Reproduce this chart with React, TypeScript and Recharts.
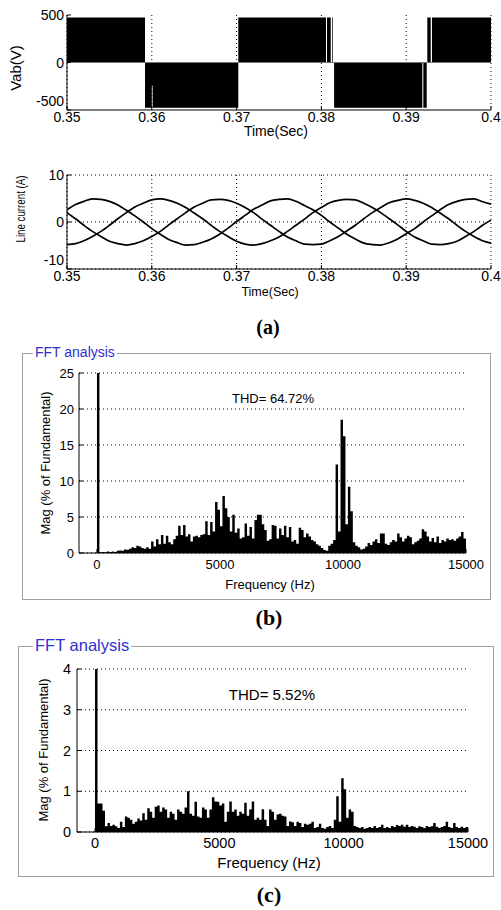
import {
  Area,
  AreaChart,
  CartesianGrid,
  Line,
  LineChart,
  ReferenceLine,
  XAxis,
  YAxis,
} from "recharts";

// (a) top: line voltage Vab, switching instants
const vabTimes = [
  0.35, 0.3592, 0.36, 0.3601, 0.3702, 0.38054, 0.38066, 0.3811, 0.38125, 0.38133,
  0.3815, 0.3919, 0.39202, 0.39242, 0.39249, 0.39289, 0.39304, 0.4,
];
const vabValues = [
  475, -475, -245, -475, 475, 0, 475, 0, 475, 0, -475, 0, -475, 0, 475, 0, 475, 475,
];

// (a) bottom: three line currents sampled every 1 ms from 0.35 s
const currentStart = 0.35;
const currentStep = 0.001;
const phaseA = [
  2.6, 3.7, 4.4, 4.9, 4.8, 4.4, 3.6, 2.5, 1.3, 0.0, -1.4, -2.6, -3.7, -4.4, -4.9, -4.8, -4.3, -3.6, -2.6, -1.3, 0.1, 1.4,
  2.7, 3.6, 4.5, 4.8, 4.9, 4.4, 3.5, 2.6, 1.4, 0.0, -1.3, -2.6, -3.6, -4.5, -4.8, -4.9, -4.4, -3.6, -2.5, -1.4, 0.0, 1.3,
  2.6, 3.7, 4.4, 4.8, 4.9, 4.3, 3.8,
];
const phaseB = [
  -4.8, -4.6, -4.0, -3.1, -2.0, -0.7, 0.7, 2.0, 3.2, 4.0, 4.7, 4.9, 4.6, 4.0, 3.1, 1.9, 0.7, -0.7, -2.0, -3.1, -4.1, -4.7,
  -4.9, -4.6, -4.0, -3.2, -2.0, -0.7, 0.6, 2.0, 3.1, 4.1, 4.6, 4.8, 4.7, 4.0, 3.1, 2.0, 0.7, -0.6, -2.0, -3.2, -4.0, -4.7,
  -4.8, -4.6, -4.1, -3.1, -2.0, -0.7, 0.4,
];
const phaseC = [
  2.0, 0.7, -0.7, -2.0, -3.1, -4.1, -4.6, -4.9, -4.6, -4.0, -3.1, -2.0, -0.6, 0.7, 2.0, 3.2, 4.0, 4.7, 4.8, 4.6, 4.0, 3.1,
  2.0, 0.6, -0.7, -2.0, -3.2, -4.0, -4.7, -4.8, -4.7, -4.0, -3.1, -1.9, -0.7, 0.7, 2.0, 3.1, 4.1, 4.6, 4.9, 4.6, 4.0, 3.1,
  1.9, 0.7, -0.7, -2.0, -3.1, -4.0, -4.5,
];
const timeTicks = [0.35, 0.36, 0.37, 0.38, 0.39, 0.4];

// (b), (c): harmonic spectra in 100 Hz bins, bin 0 = fundamental
const fftStep = 100;
const freqTicks = [0, 5000, 10000, 15000];
const magB = [
  100, 0.1, 0.15, 0.1, 0.2, 0.15, 0.2, 0.15, 0.3, 0.35,
  0.3, 0.5, 0.45, 0.6, 0.8, 0.7, 1.0, 0.9, 0.7, 0.6,
  0.8, 0.6, 1.6, 0.9, 1.9, 1.2, 2.5, 1.3, 2.4, 1.5,
  1.2, 1.9, 2.4, 3.8, 2.5, 3.9, 2.3, 2.6, 1.6, 2.3,
  2.4, 2.2, 2.5, 2.6, 4.4, 2.5, 4.3, 3.0, 7.1, 6.0,
  3.7, 7.9, 6.2, 5.0, 3.0, 5.3, 2.8, 3.4, 2.0, 2.2,
  4.1, 2.4, 3.6, 2.0, 4.6, 5.3, 5.3, 4.0, 3.2, 1.7,
  1.9, 3.9, 3.8, 2.0, 3.4, 2.5, 3.8, 2.2, 3.6, 1.6,
  1.8, 1.3, 3.5, 3.2, 2.2, 2.7, 2.3, 1.8, 1.6, 1.2,
  1.0, 0.7, 0.4, 0.3, 1.0, 1.3, 1.8, 12.3, 3.0, 18.5,
  16.2, 4.0, 9.2, 5.8, 1.5, 1.0, 0.8, 0.5, 0.6, 0.9,
  1.4, 1.1, 1.6, 1.9, 1.4, 2.7, 2.7, 1.3, 1.1, 1.5,
  1.8, 1.6, 2.7, 2.2, 1.6, 2.0, 2.4, 2.2, 1.2, 1.5,
  1.7, 2.0, 3.3, 3.0, 2.3, 1.6, 2.1, 1.5, 2.3, 1.4,
  1.8, 1.6, 2.0, 1.8, 1.9, 1.7, 2.0, 2.3, 2.9, 2.0,
  2.0,
];
const magC = [
  100, 0.7, 0.7, 0.52, 0.14, 0.22, 0.15, 0.18, 0.14, 0.1,
  0.25, 0.12, 0.38, 0.35, 0.3, 0.2, 0.25, 0.33, 0.28, 0.46,
  0.3, 0.58, 0.5, 0.35, 0.62, 0.65, 0.5, 0.6, 0.55, 0.35,
  0.5, 0.45, 0.3, 0.55, 0.5, 0.45, 0.6, 1.0, 0.45, 0.4,
  0.74, 0.38, 0.35, 0.6, 0.55, 0.35, 0.55, 0.85, 0.75, 0.74,
  0.65, 0.7, 0.25, 0.5, 0.75, 0.5, 0.55, 0.4, 0.5, 0.45,
  0.72, 0.4, 0.55, 0.75, 0.3, 0.35, 0.3, 0.56, 0.3, 0.15,
  0.55, 0.5, 0.3, 0.43, 0.45, 0.4, 0.38, 0.15, 0.26, 0.24,
  0.15, 0.25, 0.22, 0.12, 0.2, 0.18, 0.2, 0.25, 0.1, 0.12,
  0.2, 0.1, 0.08, 0.12, 0.15, 0.1, 0.3, 0.88, 0.25, 1.32,
  1.05, 0.35, 0.55, 0.5, 0.15, 0.12, 0.1, 0.12, 0.08, 0.1,
  0.12, 0.1, 0.15, 0.1, 0.12, 0.18, 0.1, 0.12, 0.1, 0.15,
  0.12, 0.17, 0.15, 0.18, 0.13, 0.18, 0.12, 0.15, 0.13, 0.1,
  0.14, 0.12, 0.1, 0.15, 0.12, 0.14, 0.22, 0.13, 0.1, 0.12,
  0.15, 0.25, 0.12, 0.1, 0.22, 0.12, 0.1, 0.13, 0.1, 0.12,
  0.12,
];

const vabData = vabTimes.map((t, i) => ({ t, v: vabValues[i] }));
const currentData = phaseA.map((a, i) => ({
  t: currentStart + i * currentStep,
  a,
  b: phaseB[i],
  c: phaseC[i],
}));
const fftB = magB.map((m, i) => ({ f: i * fftStep, m }));
const fftC = magC.map((m, i) => ({ f: i * fftStep, m }));

const sans = "'Liberation Sans', Arial, Helvetica, sans-serif";
const serif = "'Liberation Serif', 'Times New Roman', serif";
const tickFont = (size: number) => ({ fontSize: size, fill: "#000", fontFamily: sans });
const black = { stroke: "#000" };

// y tick label; the lowest one can be lifted a little so it clears the first x label
function makeYTick(size: number, lowest: number, lift: number) {
  return (props: any) => {
    const { x, y, payload } = props;
    const dy = payload.value === lowest ? -lift : 0;
    return (
      <text
        x={x}
        y={y + dy}
        textAnchor="end"
        dominantBaseline="central"
        fontSize={size}
        fontFamily={sans}
        fill="#000"
      >
        {payload.value}
      </text>
    );
  };
}

function MatlabAxes({
  xKey,
  xDomain,
  xTicks,
  yDomain,
  yTicks,
  font,
  xMargin,
  yMargin,
  xHeight,
  lowLift = 0,
}: {
  xKey: string;
  xDomain: number[];
  xTicks: number[];
  yDomain: number[];
  yTicks: number[];
  font: number;
  xMargin: number;
  yMargin: number;
  xHeight: number;
  lowLift?: number;
}) {
  return [
    <XAxis
      key="xb"
      dataKey={xKey}
      type="number"
      domain={xDomain}
      ticks={xTicks}
      interval={0}
      allowDataOverflow
      tick={tickFont(font)}
      tickSize={-4}
      tickMargin={xMargin}
      height={xHeight}
      axisLine={black}
      tickLine={black}
    />,
    <XAxis
      key="xt"
      xAxisId="top"
      orientation="top"
      type="number"
      domain={xDomain}
      ticks={xTicks}
      allowDataOverflow
      mirror
      tick={false}
      tickSize={4}
      height={0}
      axisLine={black}
      tickLine={black}
    />,
    <YAxis
      key="yl"
      type="number"
      domain={yDomain}
      ticks={yTicks}
      interval={0}
      allowDataOverflow
      tick={makeYTick(font, yDomain[0], lowLift)}
      tickSize={-4}
      tickMargin={yMargin}
      width={60}
      axisLine={black}
      tickLine={black}
    />,
    <YAxis
      key="yr"
      yAxisId="right"
      orientation="right"
      type="number"
      domain={yDomain}
      ticks={yTicks}
      allowDataOverflow
      mirror
      tick={false}
      tickSize={4}
      width={0}
      axisLine={black}
      tickLine={black}
    />,
  ];
}

function FftChart({
  data,
  top,
  height,
  margin,
  xDomain,
  yDomain,
  yTicks,
  font,
  xMargin,
  yMargin,
}: {
  data: { f: number; m: number }[];
  top: number;
  height: number;
  margin: { top: number; right: number; bottom: number; left: number };
  xDomain: number[];
  yDomain: number[];
  yTicks: number[];
  font: number;
  xMargin: number;
  yMargin: number;
}) {
  return (
    <div style={{ position: "absolute", left: 0, top }}>
      <AreaChart width={501} height={height} data={data} margin={margin}>
        <CartesianGrid vertical={false} stroke="#000" strokeDasharray="1 3" />
        {MatlabAxes({
          xKey: "f",
          xDomain,
          xTicks: freqTicks,
          yDomain,
          yTicks,
          font,
          xMargin,
          yMargin,
          xHeight: 25,
        })}
        <Area
          type="stepAfter"
          dataKey="m"
          fill="#000"
          fillOpacity={1}
          stroke="none"
          baseValue={0}
          isAnimationActive={false}
        />
      </AreaChart>
    </div>
  );
}

const abs = (left: number, top: number, size: number, extra: object = {}) => ({
  position: "absolute" as const,
  left,
  top,
  fontSize: size,
  fontFamily: sans,
  whiteSpace: "nowrap" as const,
  transform: "translate(-50%, -50%)",
  lineHeight: 1,
  ...extra,
});

const rotated = "translate(-50%, -50%) rotate(-90deg)";

export default function App() {
  return (
    <div
      style={{
        position: "absolute",
        left: 0,
        top: 0,
        width: 501,
        height: 910,
        background: "#fff",
        overflow: "hidden",
        fontFamily: sans,
      }}
    >
      {/* (a) Vab */}
      <div style={{ position: "absolute", left: 0, top: 0 }}>
        <AreaChart width={501} height={140} data={vabData} margin={{ top: 15, right: 10, bottom: 0, left: 7 }}>
          <CartesianGrid horizontal={false} stroke="#000" strokeDasharray="1 3" />
          {MatlabAxes({
            xKey: "t",
            xDomain: [0.35, 0.4],
            xTicks: timeTicks,
            yDomain: [-500, 500],
            yTicks: [-500, 0, 500],
            font: 14,
            xMargin: 6,
            yMargin: 7,
            xHeight: 30,
            lowLift: 9,
          })}
          <ReferenceLine y={0} stroke="#777" />
          <Area
            type="stepAfter"
            dataKey="v"
            fill="#000"
            fillOpacity={1}
            stroke="none"
            baseValue={0}
            isAnimationActive={false}
          />
        </AreaChart>
      </div>
      <div style={abs(15, 68, 15, { transform: rotated })}>Vab(V)</div>
      <div style={abs(276, 131, 14)}>Time(Sec)</div>

      {/* (a) line currents */}
      <div style={{ position: "absolute", left: 0, top: 160 }}>
        <LineChart width={501} height={139} data={currentData} margin={{ top: 15, right: 10, bottom: 0, left: 7 }}>
          <CartesianGrid stroke="#000" strokeDasharray="1 3" />
          {MatlabAxes({
            xKey: "t",
            xDomain: [0.35, 0.4],
            xTicks: timeTicks,
            yDomain: [-10, 10],
            yTicks: [-10, 0, 10],
            font: 14,
            xMargin: 6,
            yMargin: 7,
            xHeight: 30,
            lowLift: 9,
          })}
          {["a", "b", "c"].map((k) => (
            <Line
              key={k}
              type="monotone"
              dataKey={k}
              stroke="#000"
              strokeWidth={1.7}
              dot={false}
              isAnimationActive={false}
            />
          ))}
        </LineChart>
      </div>
      <div style={abs(21, 209, 13.5, { transform: `${rotated} scale(0.72, 1)` })}>Line current (A)</div>
      <div style={abs(270, 292, 12.5)}>Time(Sec)</div>
      <div style={abs(268, 327, 20, { fontFamily: serif, fontWeight: "bold" })}>(a)</div>

      {/* (b) */}
      <div
        style={{
          position: "absolute",
          left: 22,
          top: 353,
          width: 467,
          height: 245,
          border: "1px solid #a0a0a0",
        }}
      />
      <div
        style={{
          position: "absolute",
          left: 33,
          top: 344,
          fontSize: 14,
          lineHeight: "16px",
          color: "#2f2fd0",
          background: "#fff",
          padding: "0 2px",
        }}
      >
        FFT analysis
      </div>
      <FftChart
        data={fftB}
        top={353}
        height={225}
        margin={{ top: 20, right: 35, bottom: 0, left: 19 }}
        xDomain={[-730, 15000]}
        yDomain={[0, 25]}
        yTicks={[0, 5, 10, 15, 20, 25]}
        font={13}
        xMargin={11}
        yMargin={9}
      />
      <div style={abs(273, 398, 13)}>THD= 64.72%</div>
      <div style={abs(45, 463, 13, { transform: rotated })}>Mag (% of Fundamental)</div>
      <div style={abs(270, 584, 13)}>Frequency (Hz)</div>
      <div style={abs(269, 618, 22, { fontFamily: serif, fontWeight: "bold" })}>(b)</div>

      {/* (c) */}
      <div
        style={{
          position: "absolute",
          left: 18,
          top: 646,
          width: 474,
          height: 229,
          border: "1px solid #a0a0a0",
        }}
      />
      <div
        style={{
          position: "absolute",
          left: 33,
          top: 636,
          fontSize: 16.5,
          lineHeight: "19px",
          color: "#2f2fd0",
          background: "#fff",
          padding: "0 2px",
        }}
      >
        FFT analysis
      </div>
      <FftChart
        data={fftC}
        top={646}
        height={211}
        margin={{ top: 23, right: 33, bottom: 0, left: 17 }}
        xDomain={[-725, 15000]}
        yDomain={[0, 4]}
        yTicks={[0, 1, 2, 3, 4]}
        font={14.5}
        xMargin={10}
        yMargin={10}
      />
      <div style={abs(272, 694, 15)}>THD= 5.52%</div>
      <div style={abs(43, 750, 13, { transform: rotated })}>Mag (% of Fundamental)</div>
      <div style={abs(269, 862, 15)}>Frequency (Hz)</div>
      <div style={abs(269, 895, 22, { fontFamily: serif, fontWeight: "bold" })}>(c)</div>
    </div>
  );
}
